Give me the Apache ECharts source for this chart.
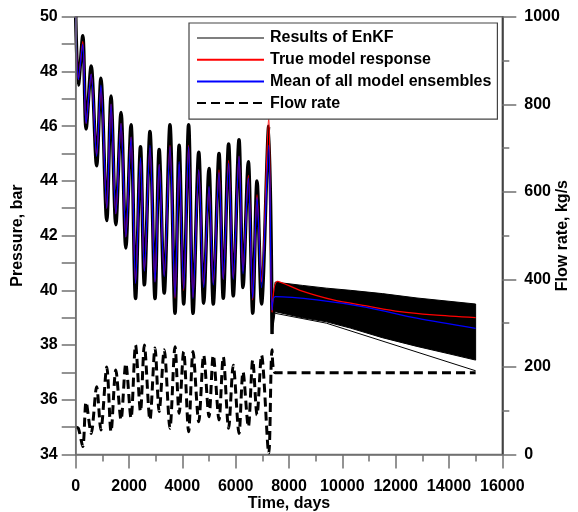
<!DOCTYPE html>
<html><head><meta charset="utf-8">
<script src="https://cdn.jsdelivr.net/npm/echarts@6/dist/echarts.min.js"></script>
<style>html,body{margin:0;padding:0;background:#fff}#c{width:578px;height:512px}</style>
</head><body><div id="c"></div>
<script>
// ---- Oscillating (production) period: extremes ----
const oscDays = [0, 100, 265, 390, 580, 785, 945, 1165, 1325, 1505, 1700, 1880, 2075, 2245, 2430, 2575, 2785, 2975, 3130, 3320, 3535, 3725, 3880, 4050, 4235, 4400, 4615, 4800, 5000, 5160, 5375, 5535, 5735, 5910, 6125, 6275, 6475, 6640, 6800, 6970, 7240, 7365];
const ensembleOsc = [50, 47.5, 49.3, 45.9, 48.2, 44.55, 47.75, 42.55, 47.1, 42.4, 46.5, 41.55, 46.05, 39.7, 45.25, 40.2, 45.8, 39.7, 45.15, 39.9, 46.05, 39.16, 45.3, 39.5, 46.05, 39.16, 45.05, 39.53, 44.45, 39.5, 45.0, 39.71, 45.35, 39.8, 45.5, 40.1, 44.7, 39.16, 44.0, 39.5, 46.0, 38.4];
const trueOsc = [50, 47.7, 49.1, 46.1, 47.9, 44.95, 47.4, 43.0, 46.8, 42.8, 46.1, 41.95, 45.6, 40.28, 44.8, 40.72, 45.2, 40.32, 44.6, 40.56, 45.3, 39.71, 44.6, 40.0, 45.3, 39.75, 44.4, 40.2, 43.75, 40.26, 44.4, 40.4, 44.75, 40.45, 44.9, 40.7, 44.2, 39.65, 43.5, 40.3, 46.37, 39.2];
const meanOsc = [50, 47.7, 49.0, 46.1, 47.9, 44.9, 47.5, 43.0, 46.8, 42.8, 46.1, 41.95, 45.6, 40.25, 44.85, 40.7, 45.3, 40.3, 44.6, 40.5, 45.25, 39.75, 44.7, 40.05, 45.25, 39.7, 44.4, 40.1, 43.8, 40.2, 44.3, 40.4, 44.65, 40.4, 44.9, 40.6, 44.1, 39.7, 43.4, 40.1, 45.3, 39.28];
const flowOsc = [63, 60, 18, 120, 48, 155, 56, 200, 52, 193, 79, 208, 83, 250, 98, 250, 79, 243, 98, 239, 60, 246, 94, 235, 52, 235, 75, 227, 86, 227, 79, 223, 60, 204, 48, 189, 63, 216, 90, 227, 2, 239];

// ---- Constant-rate period ----
const trueLateDays = [7560, 8410, 9660, 10910, 12160, 13410, 15000];
const trueLate = [40.33, 40.0, 39.65, 39.43, 39.22, 39.1, 39.0];
const meanLateDays = [7480, 9040, 10910, 12790, 15000];
const meanLate = [39.77, 39.65, 39.38, 38.98, 38.61];
const bandDays = [7365, 7480, 8500, 9400, 10300, 11500, 12800, 14000, 15000];
const bandLow = [38.4, 39.22, 39.0, 38.85, 38.62, 38.27, 37.95, 37.68, 37.45];
const bandHigh = [39.3, 40.3, 40.18, 40.08, 40.0, 39.88, 39.72, 39.6, 39.5];
const outlierDays = [7480, 9400, 15000];
const outlierMember = [39.16, 38.8, 37.06];
const flowLateDays = [7480, 15000];
const flowLate = [187, 187];

const legendNames = ['Results of EnKF', 'True model response', 'Mean of all model ensembles', 'Flow rate'];

const pairs = (xs, ys) => xs.map((x, i) => [x, ys[i]]);
const FONT = 'Liberation Sans, Arial, sans-serif';
const lab = {fontFamily: FONT, fontWeight: 'bold', fontSize: 16, color: '#000'};
const axColor = '#707070';
const line = {lineStyle: {color: axColor, width: 1.5}};
const plain = v => String(v);

const chart = echarts.init(document.getElementById('c'), null, {renderer: 'canvas'});
chart.setOption({
  animation: false,
  backgroundColor: '#fff',
  grid: {left: 75.7, right: 75.7, top: 16.7, bottom: 57.5, show: true, borderColor: axColor, borderWidth: 1.5,
         backgroundColor: 'transparent', containLabel: false, outerBoundsMode: 'none'},
  legend: {
    orient: 'vertical', left: 189, top: 23, padding: [7, 6, 8, 7], itemGap: 5.7,
    itemWidth: 67, itemHeight: 16, backgroundColor: '#fff', borderColor: '#444', borderWidth: 1.2,
    selectedMode: false,
    itemStyle: {opacity: 0, borderWidth: 0},
    textStyle: {fontFamily: FONT, fontWeight: 'bold', fontSize: 16, color: '#000', lineHeight: 16, padding: [0, 0, 0, 1]},
    data: [{name: legendNames[0], lineStyle: {color: '#555', width: 1.3}}, legendNames[1], legendNames[2], legendNames[3]]
  },
  xAxis: {
    type: 'value', min: 0, max: 16000, interval: 2000, z: 10,
    name: 'Time, days', nameLocation: 'middle', nameGap: 41, nameMoveOverlap: false, nameTextStyle: lab,
    axisLine: Object.assign({onZero: false}, line),
    axisTick: Object.assign({length: 14}, line),
    minorTick: Object.assign({show: true, splitNumber: 2, length: 7}, line),
    axisLabel: Object.assign({margin: 24, formatter: plain}, lab),
    splitLine: {show: false}
  },
  yAxis: [{
    type: 'value', min: 34, max: 50, interval: 2, position: 'left', z: 10,
    name: 'Pressure, bar', nameLocation: 'middle', nameRotate: 90, nameGap: 50, nameMoveOverlap: false, nameTextStyle: lab,
    axisLine: Object.assign({show: true, onZero: false}, line),
    axisTick: Object.assign({length: 14}, line),
    minorTick: Object.assign({show: true, splitNumber: 2, length: 14}, line),
    axisLabel: Object.assign({margin: 18, formatter: plain}, lab),
    splitLine: {show: false}
  }, {
    type: 'value', min: 0, max: 1000, interval: 200, position: 'right', z: 10,
    name: 'Flow rate, kg/s', nameLocation: 'middle', nameRotate: 90, nameGap: 52, nameMoveOverlap: false, nameTextStyle: lab,
    axisLine: {show: true, onZero: false, lineStyle: {color: '#333', width: 1.5}},
    axisTick: Object.assign({length: 14}, line),
    minorTick: Object.assign({show: true, splitNumber: 2, length: 7}, line),
    axisLabel: Object.assign({margin: 22, formatter: plain}, lab),
    splitLine: {show: false}
  }],
  series: [
    {name: 'ensemble band', type: 'custom', coordinateSystem: 'cartesian2d',
     data: bandDays.map((d, i) => [d, bandLow[i], bandHigh[i]]),
     encode: {x: 0, y: [1, 2]},
     renderItem: function (params, api) {
       if (params.dataIndex !== 0) return null;
       const pts = [];
       for (let i = 0; i < bandDays.length; i++) pts.push(api.coord([bandDays[i], bandHigh[i]]));
       for (let i = bandDays.length - 1; i >= 0; i--) pts.push(api.coord([bandDays[i], bandLow[i]]));
       return {type: 'polygon', shape: {points: pts}, style: {fill: '#000', stroke: '#000', lineWidth: 1}};
     }},
    {name: 'ensemble members', type: 'line', symbol: 'none', smooth: 0.3, data: pairs(oscDays, ensembleOsc),
     lineStyle: {color: '#000', width: 3.5}},
    {name: 'Results of EnKF', type: 'line', symbol: 'none', data: pairs(outlierDays, outlierMember),
     lineStyle: {color: '#000', width: 1}, itemStyle: {color: '#444'}},
    {name: 'Flow rate', type: 'line', yAxisIndex: 1, symbol: 'none', smooth: 0.3,
     data: pairs(oscDays, flowOsc).concat(pairs(flowLateDays, flowLate)),
     lineStyle: {color: '#000', width: 3, type: [9, 5]}, itemStyle: {color: '#000'}},
    {name: 'True model response', type: 'line', symbol: 'none', smooth: 0.3,
     data: pairs(oscDays, trueOsc).concat(pairs(trueLateDays, trueLate)),
     lineStyle: {color: '#ff0000', width: 1.3}, itemStyle: {color: '#ff0000'}},
    {name: 'Mean of all model ensembles', type: 'line', symbol: 'none', smooth: 0.3,
     data: pairs(oscDays, meanOsc).concat(pairs(meanLateDays, meanLate)),
     lineStyle: {color: '#0000ff', width: 1.3}, itemStyle: {color: '#0000ff'}}
  ]
});
</script></body></html>
